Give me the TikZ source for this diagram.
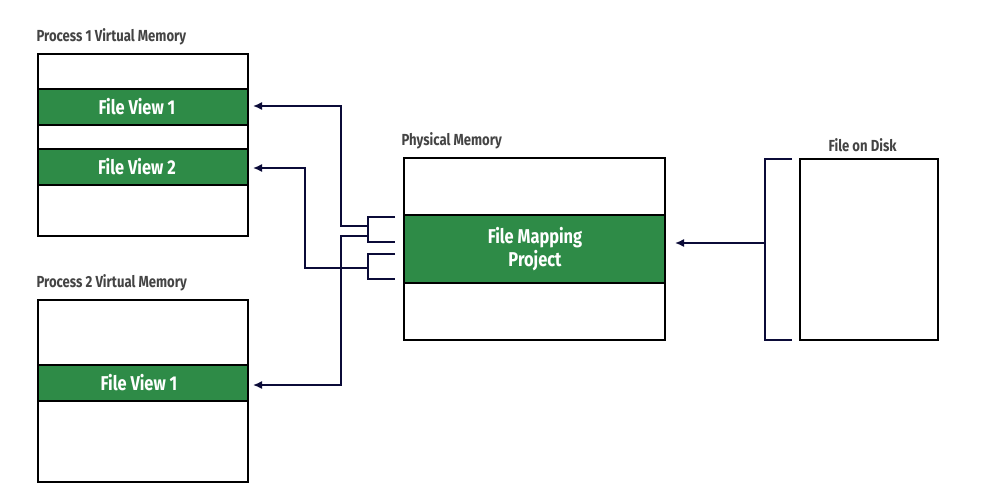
\documentclass[tikz,border=0pt]{standalone}
\usepackage{fontspec}
\setmainfont{Fira Sans}[FakeStretch=0.82]
\usetikzlibrary{arrows.meta}
\definecolor{gr}{HTML}{2E8B47}
\definecolor{nv}{HTML}{0B0B38}
\definecolor{tx}{HTML}{444444}
\begin{document}
\begin{tikzpicture}[x=1pt,y=-1pt,
 box/.style={draw=black,line width=1.5pt},
 band/.style={fill=gr,draw=black,line width=1.5pt},
 wt/.style={text=white,font=\fontsize{20}{23}\selectfont\bfseries,align=center},
 lb/.style={text=tx,font=\fontsize{16}{18}\selectfont\bfseries,anchor=west},
 ln/.style={draw=nv,line width=1.5pt},
 ar/.style={ln,-{Latex[length=9pt,width=8pt]}}]
\useasboundingbox (0,0) rectangle (1000,500);
% Process 1
\node[lb] (l1) at (33,37) {Process 1 Virtual Memory};
\draw[box] (38,54) rectangle (248,236);
\draw[band] (38,89) rectangle (248,125);
\node[wt] (f11) at (137,107) {File View 1};
\draw[band] (38,149) rectangle (248,185);
\node[wt] (f12) at (137,167) {File View 2};
% Process 2
\node[lb] (l2) at (33,283) {Process 2 Virtual Memory};
\draw[box] (38,300) rectangle (248,482);
\draw[band] (38,365) rectangle (248,401);
\node[wt] (f21) at (139,383) {File View 1};
% Physical
\node[lb] (l3) at (398,141) {Physical Memory};
\draw[box] (404,158) rectangle (665,340);
\draw[band] (404,215) rectangle (665,283);
\node[wt] (fm) at (535,249) {File Mapping\\Project};
% Disk
\node[lb] (l4) at (825,145) {File on Disk};
\draw[box] (800,159) rectangle (938,340);
% brackets
\coordinate (b1t) at (395,217); \coordinate (b1b) at (395,242);
\coordinate (b2t) at (395,254); \coordinate (b2b) at (395,279);
\draw[ln] (b1t) -- (368,217) -- (368,242) -- (b1b);
\draw[ln] (b2t) -- (368,254) -- (368,279) -- (b2b);
\coordinate (p1) at (253,106); \coordinate (p2) at (253,168); \coordinate (p3) at (253,385);
\draw[ar] (368,226) -- (341,226) -- (341,106) -- (p1);
\draw[ar] (368,268) -- (305,268) -- (305,168) -- (p2);
\draw[ar] (368,236) -- (341,236) -- (341,385) -- (p3);
\draw[ln] (792,159) -- (765,159) -- (765,340) -- (792,340);
\coordinate (dm) at (675,243);
\draw[ar] (765,243) -- (dm);
\end{tikzpicture}
\end{document}
